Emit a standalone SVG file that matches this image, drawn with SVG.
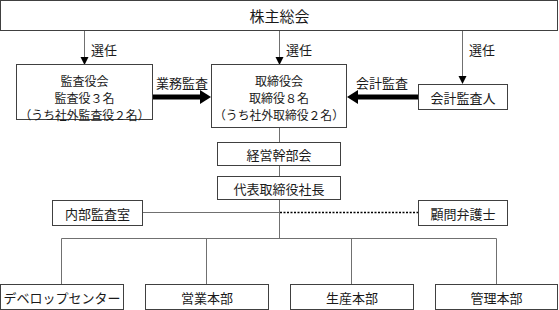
<svg xmlns="http://www.w3.org/2000/svg" width="559" height="310" viewBox="0 0 559 310">
<style>
.box{fill:#fff;stroke:#404040;stroke-width:1}
.t{font-family:"Noto Sans CJK JP","Noto Sans",sans-serif;font-size:13px;fill:#1a1a1a;text-anchor:middle;dominant-baseline:central}
.m{font-size:12px}
.l{font-family:"Noto Sans CJK JP","Noto Sans",sans-serif;font-size:13px;fill:#1a1a1a;text-anchor:start;dominant-baseline:central}
.c{fill:none;stroke:#707070;stroke-width:1}
.thick{fill:none;stroke:#000;stroke-width:5}
.dot{fill:none;stroke:#000;stroke-width:1.5;stroke-dasharray:2 1.5}
.ah{fill:#000}
</style>
<g id="connectors">
  <line class="c" x1="84.5" y1="31" x2="84.5" y2="58"/>
  <polygon class="ah" points="80.5,57 88.5,57 84.5,65"/>
  <line class="c" x1="279.5" y1="31" x2="279.5" y2="58"/>
  <polygon class="ah" points="275.5,57 283.5,57 279.5,65"/>
  <line class="c" x1="462.5" y1="31" x2="462.5" y2="77"/>
  <polygon class="ah" points="458.5,76 466.5,76 462.5,84"/>
  <text class="l" x="91" y="49">選任</text>
  <text class="l" x="286" y="49">選任</text>
  <text class="l" x="469" y="49">選任</text>
  <line class="thick" x1="152" y1="97" x2="201" y2="97"/>
  <polygon class="ah" points="200,90 211,97 200,104"/>
  <text class="t" x="182" y="82">業務監査</text>
  <line class="thick" x1="418" y1="97" x2="357" y2="97"/>
  <polygon class="ah" points="358,90 347,97 358,104"/>
  <text class="t" x="382" y="82">会計監査</text>
  <line class="c" x1="279.5" y1="128" x2="279.5" y2="142"/>
  <line class="c" x1="279.5" y1="165" x2="279.5" y2="177"/>
  <line class="c" x1="279.5" y1="199" x2="279.5" y2="238.5"/>
  <line class="c" x1="143" y1="212.5" x2="279.5" y2="212.5"/>
  <line class="dot" x1="280" y1="212.5" x2="418" y2="212.5"/>
  <line class="c" x1="61.5" y1="238.5" x2="496.5" y2="238.5"/>
  <line class="c" x1="61.5" y1="238.5" x2="61.5" y2="285"/>
  <line class="c" x1="206.5" y1="238.5" x2="206.5" y2="285"/>
  <line class="c" x1="351.5" y1="238.5" x2="351.5" y2="285"/>
  <line class="c" x1="496.5" y1="238.5" x2="496.5" y2="285"/>
</g>
<g id="shareholders">
  <rect class="box" x="0.5" y="0.5" width="557" height="30"/>
  <text class="t" x="279.5" y="15.5" style="font-size:15px">株主総会</text>
</g>
<g id="auditors-board">
  <rect class="box" x="16.5" y="64.5" width="136" height="55"/>
  <text class="t m" x="84.5" y="80">監査役会</text>
  <text class="t m" x="84.5" y="97">監査役３名</text>
  <text class="t m" x="84.5" y="114" textLength="130" lengthAdjust="spacingAndGlyphs">（うち社外監査役２名）</text>
</g>
<g id="board">
  <rect class="box" x="211.5" y="64.5" width="135" height="63"/>
  <text class="t m" x="279" y="80">取締役会</text>
  <text class="t m" x="279" y="97">取締役８名</text>
  <text class="t m" x="279" y="114" textLength="130" lengthAdjust="spacingAndGlyphs">（うち社外取締役２名）</text>
</g>
<g id="accounting-auditor">
  <rect class="box" x="418.5" y="84.5" width="89" height="25"/>
  <text class="t" x="463" y="97.5">会計監査人</text>
</g>
<g id="executive-committee">
  <rect class="box" x="217.5" y="142.5" width="123" height="23"/>
  <text class="t" x="279" y="154.5">経営幹部会</text>
</g>
<g id="president">
  <rect class="box" x="217.5" y="176.5" width="123" height="23"/>
  <text class="t" x="279" y="188.5">代表取締役社長</text>
</g>
<g id="internal-audit">
  <rect class="box" x="52.5" y="200.5" width="90" height="25"/>
  <text class="t" x="97.5" y="213.5">内部監査室</text>
</g>
<g id="legal-counsel">
  <rect class="box" x="418.5" y="200.5" width="89" height="25"/>
  <text class="t" x="463" y="213.5">顧問弁護士</text>
</g>
<g id="dev-center">
  <rect class="box" x="0.5" y="284.5" width="123" height="25"/>
  <text class="t" x="62" y="297.5">デベロップセンター</text>
</g>
<g id="sales">
  <rect class="box" x="145.5" y="284.5" width="123" height="25"/>
  <text class="t" x="207" y="297.5">営業本部</text>
</g>
<g id="production">
  <rect class="box" x="290.5" y="284.5" width="123" height="25"/>
  <text class="t" x="352" y="297.5">生産本部</text>
</g>
<g id="admin">
  <rect class="box" x="435.5" y="284.5" width="122" height="25"/>
  <text class="t" x="496.5" y="297.5">管理本部</text>
</g>
</svg>
